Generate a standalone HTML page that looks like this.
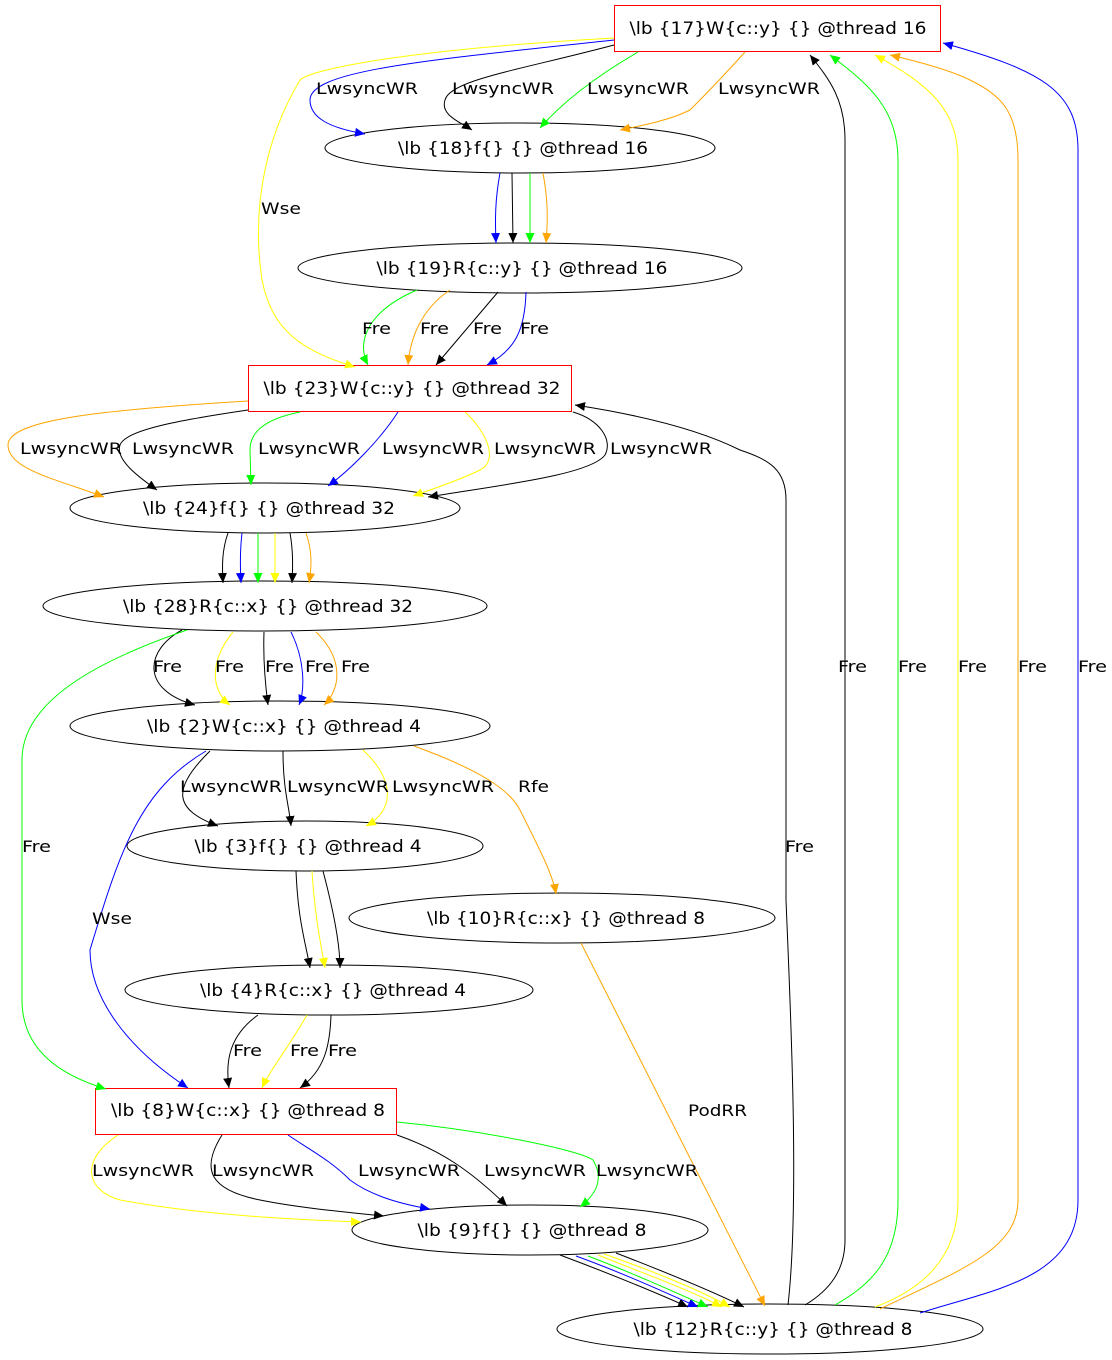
<!DOCTYPE html>
<html><head><meta charset="utf-8"><style>
html,body{margin:0;padding:0;background:#fff;}
svg{display:block;}
text{font-family:"DejaVu Sans","Liberation Sans",sans-serif;font-size:16px;fill:#000;}
.n{font-size:17px;}
</style></head><body>
<svg width="1112" height="1360" viewBox="0 0 1112 1360" xmlns="http://www.w3.org/2000/svg">
<defs>
<marker id="mk" markerUnits="userSpaceOnUse" markerWidth="12" markerHeight="10" refX="10" refY="4.5" orient="auto"><path d="M0,0 L10,4.5 L0,9z" fill="#000"/></marker>
<marker id="mb" markerUnits="userSpaceOnUse" markerWidth="12" markerHeight="10" refX="10" refY="4.5" orient="auto"><path d="M0,0 L10,4.5 L0,9z" fill="#00f"/></marker>
<marker id="mg" markerUnits="userSpaceOnUse" markerWidth="12" markerHeight="10" refX="10" refY="4.5" orient="auto"><path d="M0,0 L10,4.5 L0,9z" fill="#0f0"/></marker>
<marker id="my" markerUnits="userSpaceOnUse" markerWidth="12" markerHeight="10" refX="10" refY="4.5" orient="auto"><path d="M0,0 L10,4.5 L0,9z" fill="#ff0"/></marker>
<marker id="mo" markerUnits="userSpaceOnUse" markerWidth="12" markerHeight="10" refX="10" refY="4.5" orient="auto"><path d="M0,0 L10,4.5 L0,9z" fill="#ffa500"/></marker>
</defs>
<!-- nodes -->
<g fill="#fff" stroke-width="1">
<rect x="614.5" y="5.5" width="326" height="46" stroke="#f00"/>
<ellipse cx="520" cy="148" rx="195" ry="25" stroke="#000"/>
<ellipse cx="520" cy="268" rx="222" ry="25" stroke="#000"/>
<rect x="248.5" y="365.5" width="323" height="46" stroke="#f00"/>
<ellipse cx="265" cy="508" rx="195" ry="25" stroke="#000"/>
<ellipse cx="265" cy="606" rx="222" ry="25" stroke="#000"/>
<ellipse cx="280" cy="726" rx="210" ry="25" stroke="#000"/>
<ellipse cx="305" cy="846" rx="178" ry="25" stroke="#000"/>
<ellipse cx="562" cy="918" rx="213" ry="25" stroke="#000"/>
<ellipse cx="329" cy="990" rx="204" ry="25" stroke="#000"/>
<rect x="95.5" y="1088.5" width="301" height="46" stroke="#f00"/>
<ellipse cx="530" cy="1230" rx="178" ry="25" stroke="#000"/>
<ellipse cx="770" cy="1329" rx="213" ry="25" stroke="#000"/>
</g>
<g fill="none" stroke-width="1">
<path d="M614,38 C400,50 310,70 300,80 C270,130 250,200 262,280 C272,330 300,350 355,367" stroke="#ff0" marker-end="url(#my)"/>
<path d="M614,40 C430,60 310,70 310,100 C310,118 330,128 365,134" stroke="#00f" marker-end="url(#mb)"/>
<path d="M614,45 C520,70 450,80 445,100 C440,115 460,122 472,130" stroke="#000" marker-end="url(#mk)"/>
<path d="M638,52 C590,80 560,105 540,128" stroke="#0f0" marker-end="url(#mg)"/>
<path d="M745,52 C720,80 700,100 690,110 C670,120 645,125 620,130" stroke="#ffa500" marker-end="url(#mo)"/>
<path d="M500,173 C495,200 495,220 496,243" stroke="#00f" marker-end="url(#mb)"/>
<path d="M512,173 L513,243" stroke="#000" marker-end="url(#mk)"/>
<path d="M530,173 L530,243" stroke="#0f0" marker-end="url(#mg)"/>
<path d="M543,173 C548,200 548,220 546,243" stroke="#ffa500" marker-end="url(#mo)"/>
<path d="M417,290 C370,310 355,340 368,365" stroke="#0f0" marker-end="url(#mg)"/>
<path d="M450,290 C420,310 410,340 408,365" stroke="#ffa500" marker-end="url(#mo)"/>
<path d="M498,292 L436,365" stroke="#000" marker-end="url(#mk)"/>
<path d="M526,292 C525,330 515,350 487,365" stroke="#00f" marker-end="url(#mb)"/>
<path d="M805,1305 C830,1290 845,1270 845,1240 L845,140 C845,100 830,80 810,55" stroke="#000" marker-end="url(#mk)"/>
<path d="M835,1305 C870,1285 898,1260 898,1200 L898,160 C898,110 870,85 830,55" stroke="#0f0" marker-end="url(#mg)"/>
<path d="M875,1307 C920,1290 958,1260 958,1200 L958,160 C958,110 930,85 875,55" stroke="#ff0" marker-end="url(#my)"/>
<path d="M880,1309 C960,1270 1018,1250 1018,1200 L1018,160 C1018,110 1000,95 970,80 C950,70 920,62 890,55" stroke="#ffa500" marker-end="url(#mo)"/>
<path d="M920,1313 C990,1290 1078,1280 1078,1200 L1078,150 C1078,90 1040,70 943,43" stroke="#00f" marker-end="url(#mb)"/>
<path d="M788,1305 C800,1200 790,1000 786,900 L786,500 C786,470 770,460 740,450 C700,430 640,415 575,405" stroke="#000" marker-end="url(#mk)"/>
<path d="M248,401 C100,410 8,420 8,445 C8,470 60,480 104,497" stroke="#ffa500" marker-end="url(#mo)"/>
<path d="M248,410 C180,420 125,430 120,445 C115,460 140,478 157,490" stroke="#000" marker-end="url(#mk)"/>
<path d="M300,412 C260,420 250,435 250,450 L251,485" stroke="#0f0" marker-end="url(#mg)"/>
<path d="M398,412 C380,440 350,470 328,486" stroke="#00f" marker-end="url(#mb)"/>
<path d="M465,412 C485,430 500,460 480,470 C460,480 430,490 413,496" stroke="#ff0" marker-end="url(#my)"/>
<path d="M573,412 C600,420 613,440 605,455 C590,475 500,485 428,497" stroke="#000" marker-end="url(#mk)"/>
<path d="M228,533 C222,550 222,565 223,583" stroke="#000" marker-end="url(#mk)"/>
<path d="M242,533 C240,550 240,565 241,583" stroke="#00f" marker-end="url(#mb)"/>
<path d="M258,533 L258,583" stroke="#0f0" marker-end="url(#mg)"/>
<path d="M275,533 L275,583" stroke="#ff0" marker-end="url(#my)"/>
<path d="M290,533 C293,550 293,565 292,583" stroke="#000" marker-end="url(#mk)"/>
<path d="M306,533 C312,550 312,565 309,583" stroke="#ffa500" marker-end="url(#mo)"/>
<path d="M182,630 C145,650 140,690 195,705" stroke="#000" marker-end="url(#mk)"/>
<path d="M233,632 C210,660 210,690 230,705" stroke="#ff0" marker-end="url(#my)"/>
<path d="M264,632 C263,660 266,690 268,705" stroke="#000" marker-end="url(#mk)"/>
<path d="M291,632 C305,660 305,690 299,705" stroke="#00f" marker-end="url(#mb)"/>
<path d="M316,632 C345,660 340,690 324,705" stroke="#ffa500" marker-end="url(#mo)"/>
<path d="M187,630 C100,660 22,700 22,760 L22,1000 C22,1050 60,1075 106,1089" stroke="#0f0" marker-end="url(#mg)"/>
<path d="M210,751 C170,790 175,810 218,826" stroke="#000" marker-end="url(#mk)"/>
<path d="M283,751 C283,790 289,805 291,826" stroke="#000" marker-end="url(#mk)"/>
<path d="M363,750 C395,780 395,810 366,826" stroke="#ff0" marker-end="url(#my)"/>
<path d="M414,746 C480,770 510,790 520,810 C540,850 553,875 556,894" stroke="#ffa500" marker-end="url(#mo)"/>
<path d="M206,751 C140,790 120,850 90,950 C90,1000 130,1050 188,1088" stroke="#00f" marker-end="url(#mb)"/>
<path d="M296,871 C298,920 305,940 310,968" stroke="#000" marker-end="url(#mk)"/>
<path d="M312,871 C315,920 322,950 325,968" stroke="#ff0" marker-end="url(#my)"/>
<path d="M323,871 C336,920 340,950 340,968" stroke="#000" marker-end="url(#mk)"/>
<path d="M258,1015 C230,1035 225,1060 229,1088" stroke="#000" marker-end="url(#mk)"/>
<path d="M307,1015 C290,1045 270,1070 262,1088" stroke="#ff0" marker-end="url(#my)"/>
<path d="M331,1015 C330,1045 325,1070 300,1088" stroke="#000" marker-end="url(#mk)"/>
<path d="M581,943 C650,1080 710,1200 765,1306" stroke="#ffa500" marker-end="url(#mo)"/>
<path d="M118,1135 C80,1160 85,1190 120,1200 C200,1215 300,1220 361,1222" stroke="#ff0" marker-end="url(#my)"/>
<path d="M222,1135 C200,1170 210,1190 260,1200 C300,1208 345,1212 384,1216" stroke="#000" marker-end="url(#mk)"/>
<path d="M288,1135 C310,1150 330,1160 350,1180 C370,1195 400,1204 430,1209" stroke="#00f" marker-end="url(#mb)"/>
<path d="M397,1135 C440,1150 470,1170 507,1206" stroke="#000" marker-end="url(#mk)"/>
<path d="M397,1122 C480,1130 580,1150 593,1160 C605,1180 595,1195 580,1207" stroke="#0f0" marker-end="url(#mg)"/>
<path d="M560,1255 C600,1270 650,1290 688,1307" stroke="#000" marker-end="url(#mk)"/>
<path d="M576,1256 C620,1272 660,1290 698,1307" stroke="#00f" marker-end="url(#mb)"/>
<path d="M588,1256 C630,1272 670,1290 708,1307" stroke="#0f0" marker-end="url(#mg)"/>
<path d="M598,1255 C640,1272 690,1290 722,1307" stroke="#ff0" marker-end="url(#my)"/>
<path d="M604,1254 C650,1270 700,1290 730,1307" stroke="#ff0" marker-end="url(#my)"/>
<path d="M616,1253 C660,1270 710,1290 744,1307" stroke="#000" marker-end="url(#mk)"/>
</g>
<g text-anchor="middle" class="n">
<text class="n" x="778" y="34" textLength="297" lengthAdjust="spacingAndGlyphs">\lb {17}W{c::y} {} @thread 16</text>
<text class="n" x="523" y="154" textLength="250" lengthAdjust="spacingAndGlyphs">\lb {18}f{} {} @thread 16</text>
<text class="n" x="522" y="274" textLength="291" lengthAdjust="spacingAndGlyphs">\lb {19}R{c::y} {} @thread 16</text>
<text class="n" x="412" y="394" textLength="297" lengthAdjust="spacingAndGlyphs">\lb {23}W{c::y} {} @thread 32</text>
<text class="n" x="269" y="514" textLength="252" lengthAdjust="spacingAndGlyphs">\lb {24}f{} {} @thread 32</text>
<text class="n" x="268" y="612" textLength="290" lengthAdjust="spacingAndGlyphs">\lb {28}R{c::x} {} @thread 32</text>
<text class="n" x="284" y="732" textLength="274" lengthAdjust="spacingAndGlyphs">\lb {2}W{c::x} {} @thread 4</text>
<text class="n" x="308" y="852" textLength="227" lengthAdjust="spacingAndGlyphs">\lb {3}f{} {} @thread 4</text>
<text class="n" x="566" y="924" textLength="278" lengthAdjust="spacingAndGlyphs">\lb {10}R{c::x} {} @thread 8</text>
<text class="n" x="333" y="996" textLength="266" lengthAdjust="spacingAndGlyphs">\lb {4}R{c::x} {} @thread 4</text>
<text class="n" x="248" y="1116" textLength="274" lengthAdjust="spacingAndGlyphs">\lb {8}W{c::x} {} @thread 8</text>
<text class="n" x="532" y="1236" textLength="229" lengthAdjust="spacingAndGlyphs">\lb {9}f{} {} @thread 8</text>
<text class="n" x="773" y="1335" textLength="279" lengthAdjust="spacingAndGlyphs">\lb {12}R{c::y} {} @thread 8</text>
</g>
<g>
<text x="316" y="94" textLength="102" lengthAdjust="spacingAndGlyphs">LwsyncWR</text><text x="452" y="94" textLength="102" lengthAdjust="spacingAndGlyphs">LwsyncWR</text><text x="587" y="94" textLength="102" lengthAdjust="spacingAndGlyphs">LwsyncWR</text><text x="718" y="94" textLength="102" lengthAdjust="spacingAndGlyphs">LwsyncWR</text>
<text x="261" y="214" textLength="40" lengthAdjust="spacingAndGlyphs">Wse</text>
<text x="362" y="334" textLength="29" lengthAdjust="spacingAndGlyphs">Fre</text><text x="420" y="334" textLength="29" lengthAdjust="spacingAndGlyphs">Fre</text><text x="473" y="334" textLength="29" lengthAdjust="spacingAndGlyphs">Fre</text><text x="520" y="334" textLength="29" lengthAdjust="spacingAndGlyphs">Fre</text>
<text x="20" y="454" textLength="102" lengthAdjust="spacingAndGlyphs">LwsyncWR</text><text x="132" y="454" textLength="102" lengthAdjust="spacingAndGlyphs">LwsyncWR</text><text x="258" y="454" textLength="102" lengthAdjust="spacingAndGlyphs">LwsyncWR</text><text x="382" y="454" textLength="102" lengthAdjust="spacingAndGlyphs">LwsyncWR</text><text x="494" y="454" textLength="102" lengthAdjust="spacingAndGlyphs">LwsyncWR</text><text x="610" y="454" textLength="102" lengthAdjust="spacingAndGlyphs">LwsyncWR</text>
<text x="153" y="672" textLength="29" lengthAdjust="spacingAndGlyphs">Fre</text><text x="215" y="672" textLength="29" lengthAdjust="spacingAndGlyphs">Fre</text><text x="265" y="672" textLength="29" lengthAdjust="spacingAndGlyphs">Fre</text><text x="305" y="672" textLength="29" lengthAdjust="spacingAndGlyphs">Fre</text><text x="341" y="672" textLength="29" lengthAdjust="spacingAndGlyphs">Fre</text>
<text x="838" y="672" textLength="29" lengthAdjust="spacingAndGlyphs">Fre</text><text x="898" y="672" textLength="29" lengthAdjust="spacingAndGlyphs">Fre</text><text x="958" y="672" textLength="29" lengthAdjust="spacingAndGlyphs">Fre</text><text x="1018" y="672" textLength="29" lengthAdjust="spacingAndGlyphs">Fre</text><text x="1078" y="672" textLength="29" lengthAdjust="spacingAndGlyphs">Fre</text>
<text x="180" y="792" textLength="102" lengthAdjust="spacingAndGlyphs">LwsyncWR</text><text x="287" y="792" textLength="102" lengthAdjust="spacingAndGlyphs">LwsyncWR</text><text x="392" y="792" textLength="102" lengthAdjust="spacingAndGlyphs">LwsyncWR</text><text x="518" y="792" textLength="31" lengthAdjust="spacingAndGlyphs">Rfe</text>
<text x="22" y="852" textLength="29" lengthAdjust="spacingAndGlyphs">Fre</text><text x="785" y="852" textLength="29" lengthAdjust="spacingAndGlyphs">Fre</text>
<text x="92" y="924" textLength="40" lengthAdjust="spacingAndGlyphs">Wse</text>
<text x="233" y="1056" textLength="29" lengthAdjust="spacingAndGlyphs">Fre</text><text x="290" y="1056" textLength="29" lengthAdjust="spacingAndGlyphs">Fre</text><text x="328" y="1056" textLength="29" lengthAdjust="spacingAndGlyphs">Fre</text>
<text x="688" y="1116" textLength="59" lengthAdjust="spacingAndGlyphs">PodRR</text>
<text x="92" y="1176" textLength="102" lengthAdjust="spacingAndGlyphs">LwsyncWR</text><text x="212" y="1176" textLength="102" lengthAdjust="spacingAndGlyphs">LwsyncWR</text><text x="358" y="1176" textLength="102" lengthAdjust="spacingAndGlyphs">LwsyncWR</text><text x="484" y="1176" textLength="102" lengthAdjust="spacingAndGlyphs">LwsyncWR</text><text x="596" y="1176" textLength="102" lengthAdjust="spacingAndGlyphs">LwsyncWR</text>
</g>
</svg>
</body></html>
